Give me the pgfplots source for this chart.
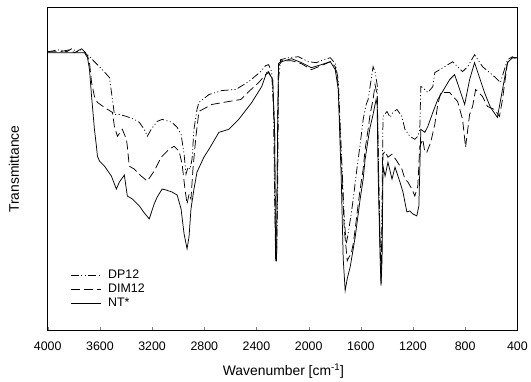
\documentclass[border=0pt]{standalone}
\usepackage{fontspec}
\setmainfont{Liberation Sans}
\usepackage{pgfplots}
\pgfplotsset{compat=1.18}
\begin{document}
\begin{tikzpicture}
\begin{axis}[
 scale only axis, width=472bp, height=324bp,
 x dir=reverse, xmin=400, xmax=4000, ymin=0, ymax=324,
 xtick={400,800,...,4000}, ytick=\empty,
 xtick pos=bottom, tick align=inside, major tick length=3bp,
 /pgf/number format/assume math mode=true,
 /pgf/number format/1000 sep={},
 tick label style={font=\fontsize{12.5}{15}\selectfont},
 xticklabel style={yshift=-8bp},
 xlabel={Wavenumber [cm\textsuperscript{-1}]}, ylabel={Transmittance},
 label style={font=\fontsize{14}{16}\selectfont},
 xlabel style={at={(axis description cs:0.502,-0.127)}, anchor=center},
 ylabel style={at={(axis description cs:-0.072,0.5)}, anchor=center},
 axis line style={line width=1pt},
 legend style={at={(0.042,0.2)}, anchor=north west, draw=none, fill=none, font=\fontsize{12.5}{15}\selectfont, row sep=0pt, column sep=5bp},
 legend cell align=left,
 legend image code/.code={\draw[#1] (0bp,0bp) -- (30bp,0bp);},
 every axis plot/.append style={black, line width=0.75pt},
]
% DP12 (dash-dot-dot)
\addplot[dash pattern=on 8bp off 2.5bp on 1bp off 2.5bp on 1bp off 2.5bp] coordinates {
(4000,280)(3908,282)(3855,280)(3817,283)(3771,280)(3741,283)(3718,280)(3695,277)(3642,270)(3581,262)(3527,254)(3504,232)(3489,217)(3451,217)(3397,215)(3336,212)(3298,209)(3260,202)(3237,195)(3207,202)(3161,210)(3123,212)(3070,210)(3047,209)(3008,204)(2978,197)(2955,177)(2940,157)(2925,164)(2909,162)(2894,172)(2879,202)(2856,222)(2841,229)(2764,237)(2665,241)(2559,242)(2459,250)(2368,260)(2330,266)(2307,267)(2284,260)(2269,222)(2261,132)(2253,70)(2246,70)(2238,132)(2231,252)(2215,272)(2154,274)(2078,275)(2002,270)(1941,269)(1887,272)(1834,274)(1796,268)(1773,252)(1750,182)(1727,112)(1712,87)(1697,97)(1674,117)(1658,132)(1635,157)(1620,172)(1605,187)(1582,212)(1559,227)(1544,232)(1521,252)(1506,265)(1491,260)(1475,247)(1460,132)(1445,52)(1437,132)(1430,215)(1399,220)(1376,214)(1354,219)(1323,222)(1285,215)(1262,202)(1224,195)(1186,192)(1163,195)(1148,202)(1140,245)(1125,244)(1086,239)(1048,245)(1033,259)(957,265)(896,270)(858,265)(820,260)(781,265)(728,277)(667,265)(576,255)(530,249)(476,272)(438,275)(400,272)
};
\addlegendentry{DP12}
% DIM12 (dashed)
\addplot[dash pattern=on 9bp off 4bp] coordinates {
(4000,280)(3908,280)(3832,282)(3794,279)(3756,282)(3718,280)(3695,276)(3680,269)(3664,249)(3642,235)(3619,229)(3565,224)(3504,219)(3489,205)(3466,195)(3428,202)(3397,192)(3390,185)(3375,165)(3336,162)(3283,155)(3237,150)(3184,160)(3131,174)(3070,182)(3031,185)(2993,180)(2970,167)(2948,142)(2932,127)(2917,137)(2902,132)(2887,162)(2864,195)(2841,220)(2742,227)(2612,230)(2520,232)(2459,240)(2383,249)(2330,257)(2307,259)(2276,252)(2261,202)(2253,70)(2246,70)(2238,202)(2231,268)(2208,271)(2131,271)(2055,268)(1979,262)(1903,266)(1834,270)(1796,265)(1773,247)(1750,172)(1727,102)(1704,70)(1689,74)(1674,77)(1658,87)(1643,102)(1620,127)(1605,142)(1582,162)(1567,182)(1544,202)(1529,217)(1506,232)(1491,247)(1475,237)(1460,132)(1445,47)(1437,102)(1430,177)(1414,180)(1392,174)(1361,177)(1323,170)(1285,162)(1262,152)(1239,149)(1209,142)(1186,135)(1163,145)(1148,185)(1125,192)(1109,179)(1094,179)(1064,189)(1033,207)(1010,227)(987,239)(919,239)(858,230)(820,212)(797,184)(766,217)(743,225)(720,242)(667,235)(629,225)(576,222)(537,215)(514,232)(476,269)(438,274)(400,274)
};
\addlegendentry{DIM12}
% NT* (solid)
\addplot[solid] coordinates {
(4000,279)(3718,279)(3695,274)(3680,262)(3664,235)(3642,202)(3626,184)(3619,175)(3603,170)(3565,165)(3512,155)(3474,142)(3451,149)(3413,156)(3390,135)(3352,132)(3298,125)(3260,118)(3222,112)(3184,127)(3161,134)(3123,142)(3092,141)(3047,139)(3008,136)(2978,122)(2955,97)(2932,82)(2917,94)(2902,122)(2879,142)(2856,159)(2803,174)(2764,182)(2688,199)(2612,202)(2536,212)(2436,229)(2360,245)(2322,259)(2307,260)(2276,252)(2261,202)(2253,70)(2246,70)(2238,202)(2231,266)(2208,270)(2131,273)(2055,269)(1979,264)(1903,267)(1834,270)(1796,262)(1773,242)(1750,152)(1735,72)(1720,40)(1704,52)(1681,64)(1658,82)(1643,94)(1620,117)(1605,132)(1582,152)(1567,172)(1544,192)(1529,204)(1506,217)(1483,232)(1475,227)(1468,162)(1452,72)(1445,45)(1437,72)(1430,165)(1414,155)(1392,169)(1361,152)(1338,164)(1300,149)(1277,139)(1247,119)(1224,120)(1201,117)(1171,115)(1155,125)(1140,202)(1109,199)(1086,205)(1048,219)(1010,232)(987,237)(919,252)(881,257)(842,242)(804,227)(766,252)(728,269)(690,254)(652,239)(606,224)(553,214)(514,242)(476,269)(438,274)(400,274)
};
\addlegendentry{NT*}
\end{axis}
\path (current axis.south west) ++(-48bp,-51bp) coordinate (bl);
\path (current axis.north east) ++(11bp,8bp) coordinate (tr);
\path (bl) rectangle (tr);
\end{tikzpicture}
\end{document}
